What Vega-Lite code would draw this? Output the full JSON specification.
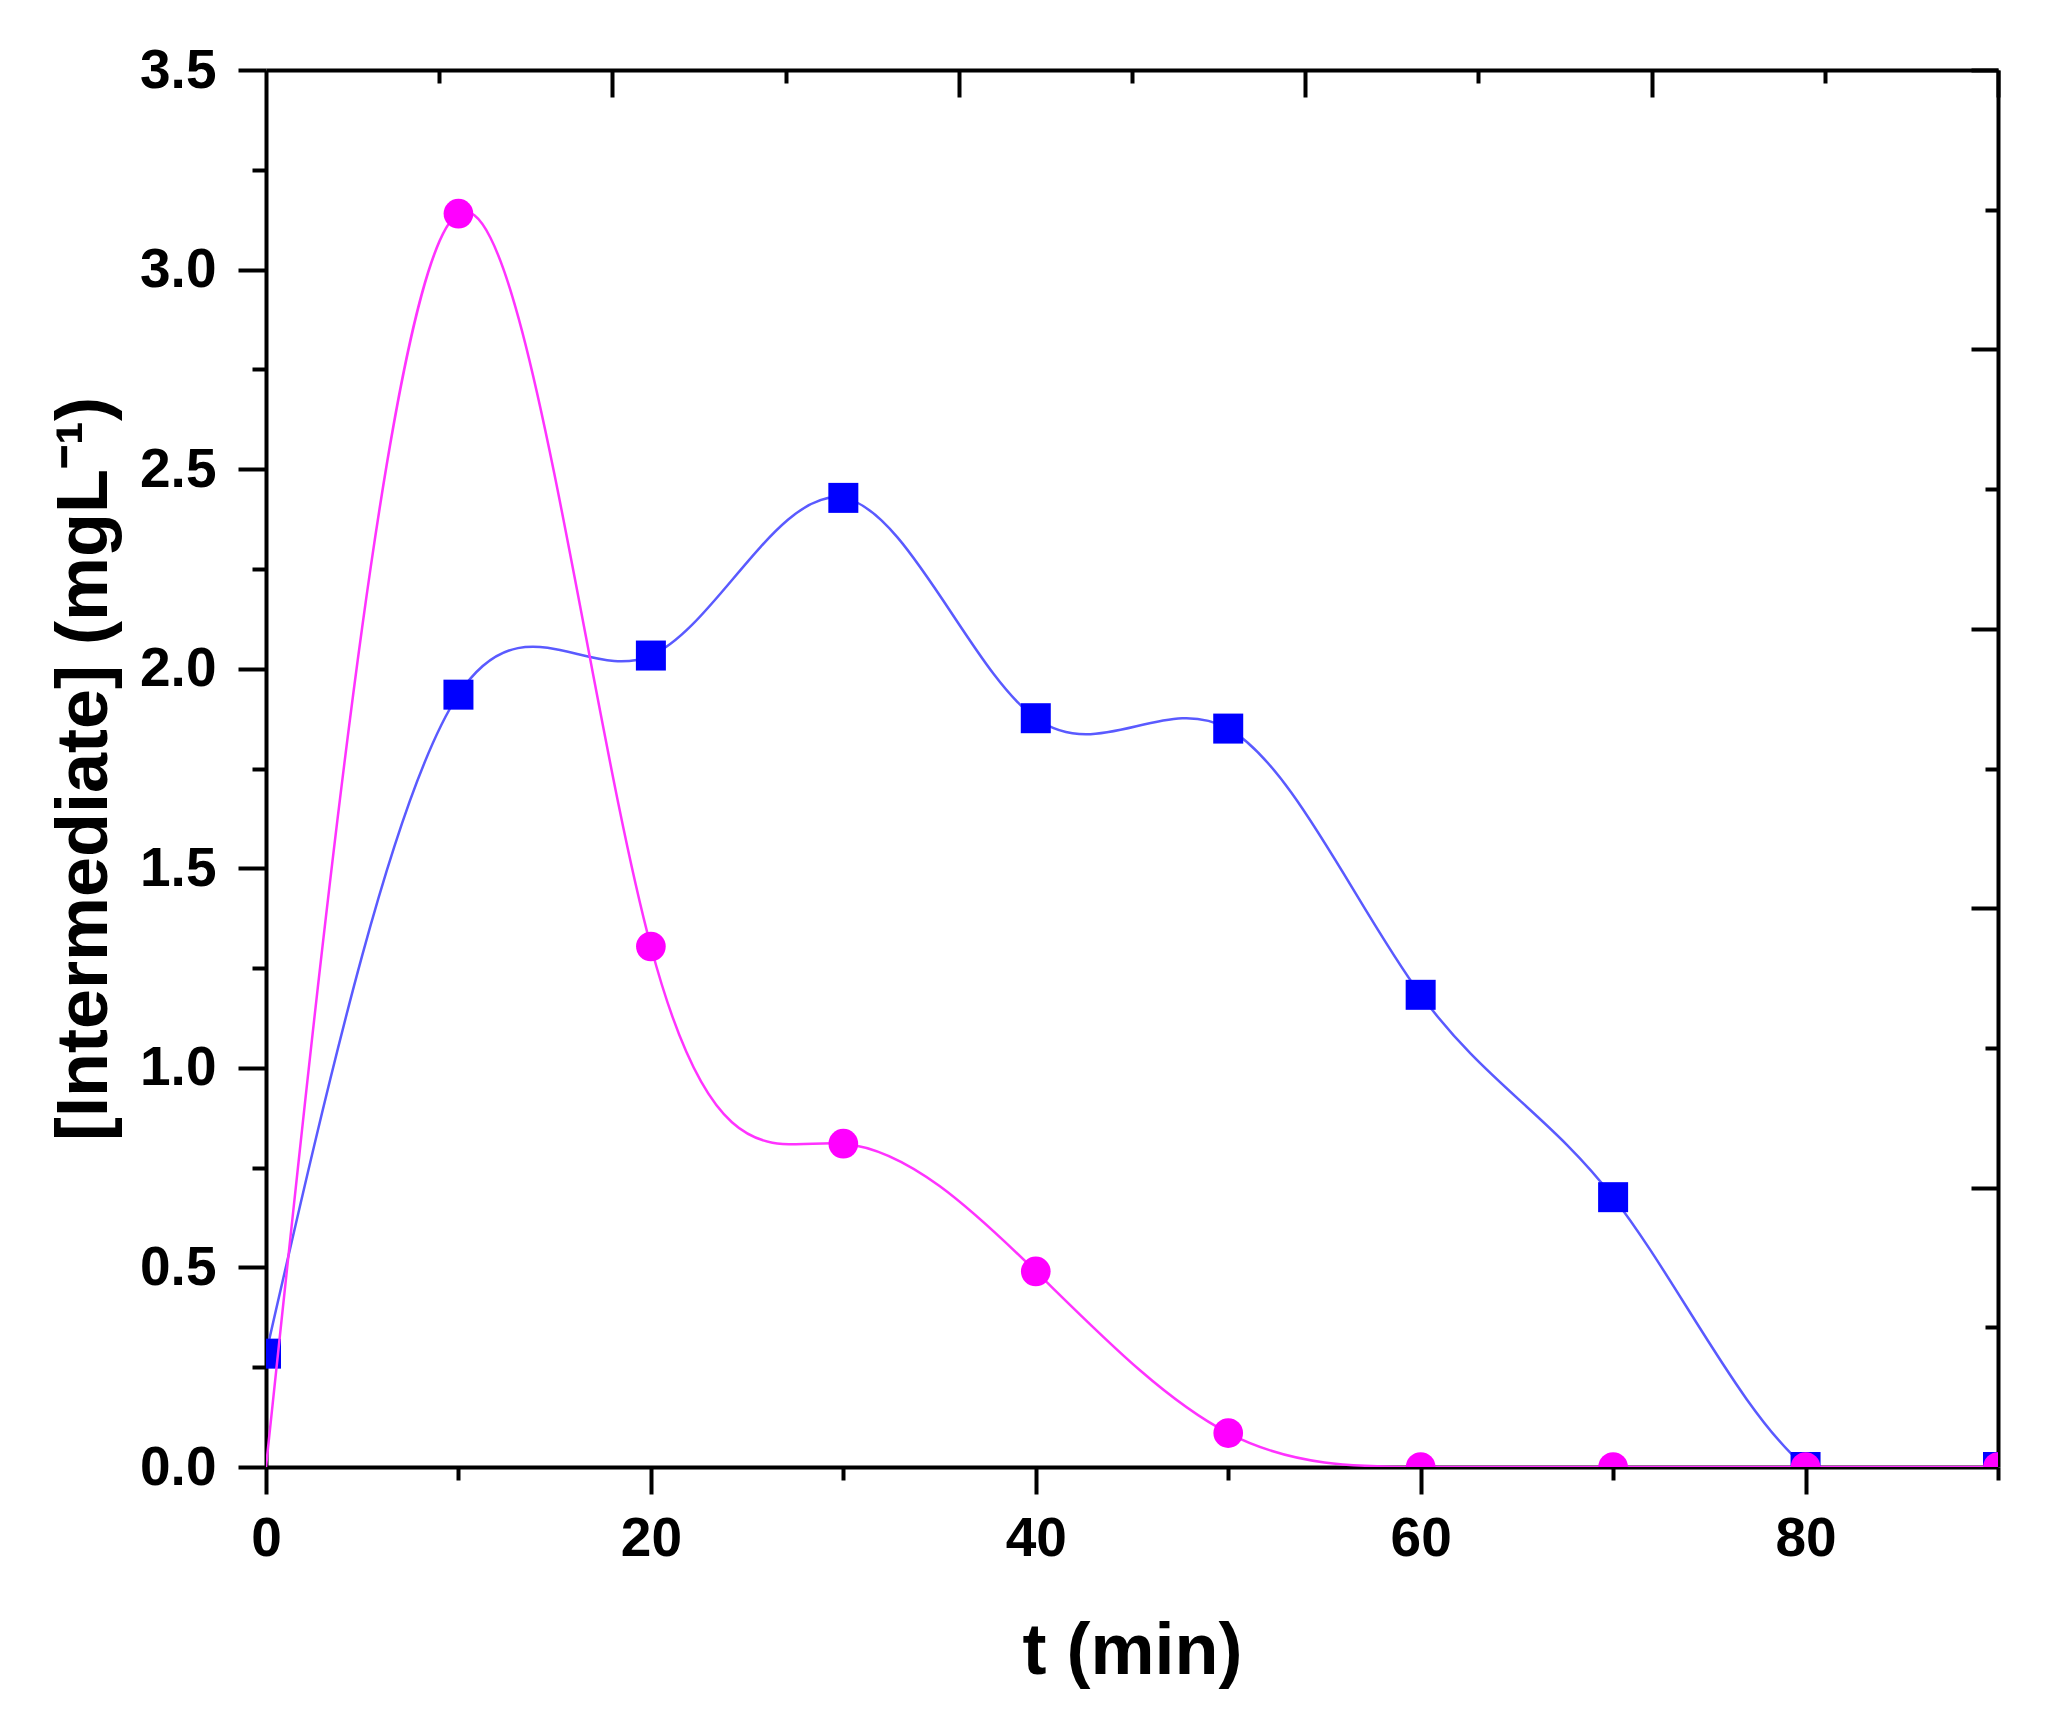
{
  "$schema": "https://vega.github.io/schema/vega-lite/v6.json",
  "autosize": {"type": "none"},
  "padding": {"left": 266, "top": 70, "right": 48, "bottom": 264},
  "width": 1732,
  "height": 1397,
  "background": "white",
  "config": {
    "view": {"stroke": null},
    "axis": {
      "grid": false,
      "domainColor": "black",
      "domainWidth": 4,
      "tickColor": "black",
      "tickWidth": 4,
      "labelFont": "Liberation Sans",
      "labelFontWeight": "bold",
      "labelFontSize": 55,
      "labelColor": "black",
      "titleFont": "Liberation Sans",
      "titleFontWeight": "bold",
      "titleFontSize": 72,
      "titleColor": "black"
    }
  },
  "data": {
    "values": [
      {"t": 0, "series": "A", "c": 0.284},
      {"t": 10, "series": "A", "c": 1.935},
      {"t": 20, "series": "A", "c": 2.033},
      {"t": 30, "series": "A", "c": 2.428},
      {"t": 40, "series": "A", "c": 1.876},
      {"t": 50, "series": "A", "c": 1.85},
      {"t": 60, "series": "A", "c": 1.183},
      {"t": 70, "series": "A", "c": 0.676},
      {"t": 80, "series": "A", "c": 0.0},
      {"t": 90, "series": "A", "c": 0.0},
      {"t": 0, "series": "B", "c": 0.0},
      {"t": 10, "series": "B", "c": 3.14},
      {"t": 20, "series": "B", "c": 1.304},
      {"t": 30, "series": "B", "c": 0.81},
      {"t": 40, "series": "B", "c": 0.49},
      {"t": 50, "series": "B", "c": 0.085},
      {"t": 60, "series": "B", "c": 0.0},
      {"t": 70, "series": "B", "c": 0.0},
      {"t": 80, "series": "B", "c": 0.0},
      {"t": 90, "series": "B", "c": 0.0}
    ]
  },
  "layer": [
    {
      "transform": [{"filter": "datum.series === 'A'"}],
      "mark": {"type": "line", "interpolate": "natural", "color": "#5a5aff", "strokeWidth": 2.5, "clip": true},
      "encoding": {
        "x": {
          "field": "t", "type": "quantitative",
          "scale": {"domain": [0, 90], "nice": false, "zero": false},
          "axis": {"orient": "bottom", "values": [0, 20, 40, 60, 80], "format": "d", "tickSize": 27, "labelPadding": 18, "labelFlush": false, "title": "t (min)", "titlePadding": 50}
        },
        "y": {
          "field": "c", "type": "quantitative",
          "scale": {"domain": [0, 3.5], "nice": false},
          "axis": {"orient": "left", "values": [0, 0.5, 1, 1.5, 2, 2.5, 3, 3.5], "format": ".1f", "tickSize": 28, "labelPadding": 22, "labelFlush": false, "title": "[Intermediate] (mgL⁻¹)", "titlePadding": 18}
        },
        "order": {"field": "t"}
      }
    },
    {
      "transform": [{"filter": "datum.series === 'A'"}],
      "mark": {"type": "square", "color": "#0000ff", "opacity": 1, "filled": true, "size": 900, "clip": true},
      "encoding": {
        "x": {"field": "t", "type": "quantitative", "axis": {"orient": "bottom", "values": [10, 30, 50, 70, 90], "tickSize": 13, "labels": false, "domain": false, "title": null}},
        "y": {"field": "c", "type": "quantitative", "axis": {"orient": "left", "values": [0.25, 0.75, 1.25, 1.75, 2.25, 2.75, 3.25], "tickSize": 14, "labels": false, "domain": false, "title": null}}
      }
    },
    {
      "transform": [{"filter": "datum.series === 'B'"}],
      "mark": {"type": "line", "interpolate": "natural", "color": "#ff33ff", "strokeWidth": 2.5, "clip": true},
      "encoding": {
        "x": {"field": "t", "type": "quantitative", "axis": {"orient": "top", "values": [18, 36, 54, 72, 90], "tickSize": -27, "labels": false, "title": null}},
        "y": {"field": "c", "type": "quantitative", "axis": {"orient": "right", "values": [0.7, 1.4, 2.1, 2.8, 3.5], "tickSize": -27, "labels": false, "title": null}},
        "order": {"field": "t"}
      }
    },
    {
      "transform": [{"filter": "datum.series === 'B' && datum.t > 0"}],
      "mark": {"type": "circle", "color": "#ff00ff", "opacity": 1, "size": 880, "clip": true},
      "encoding": {
        "x": {"field": "t", "type": "quantitative", "axis": {"orient": "top", "values": [9, 27, 45, 63, 81], "tickSize": -13, "labels": false, "domain": false, "title": null}},
        "y": {"field": "c", "type": "quantitative", "axis": {"orient": "right", "values": [0.35, 1.05, 1.75, 2.45, 3.15], "tickSize": -13, "labels": false, "domain": false, "title": null}}
      }
    }
  ],
  "resolve": {"axis": {"x": "independent", "y": "independent"}}
}
